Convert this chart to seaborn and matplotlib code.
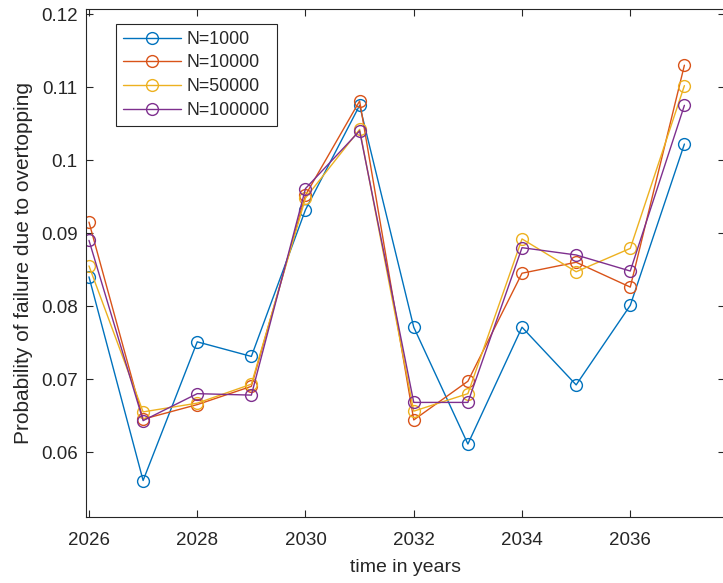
import matplotlib
matplotlib.use("Agg")
import matplotlib.pyplot as plt
import seaborn as sns
import pandas as pd

years = list(range(2026, 2038))
labels = ["N=1000", "N=10000", "N=50000", "N=100000"]
n1000 = [0.0840, 0.0561, 0.0751, 0.0731, 0.0932, 0.1075, 0.0771, 0.0611, 0.0771, 0.0692, 0.0801, 0.1022]
n10000 = [0.0915, 0.0645, 0.0665, 0.0690, 0.0952, 0.1081, 0.0644, 0.0697, 0.0845, 0.0860, 0.0826, 0.1130]
n50000 = [0.0855, 0.0655, 0.0667, 0.0693, 0.0948, 0.1042, 0.0656, 0.0680, 0.0892, 0.0847, 0.0879, 0.1102]
n100000 = [0.0890, 0.0643, 0.0680, 0.0678, 0.0961, 0.1040, 0.0668, 0.0668, 0.0880, 0.0870, 0.0848, 0.1075]
colors = ["#0072BD", "#D95319", "#EDB120", "#7E2F8E"]

df = pd.concat([
    pd.DataFrame({"year": years, "p": vals, "series": lab})
    for vals, lab in zip([n1000, n10000, n50000, n100000], labels)
])

sns.set_style("ticks")
plt.rcParams["font.family"] = ["Liberation Sans", "DejaVu Sans"]

fig = plt.figure(figsize=(7.23, 5.83), dpi=100)
ax = fig.add_axes([86 / 723, 66 / 583, 639 / 723, 508 / 583])

sns.lineplot(data=df, x="year", y="p", hue="series", hue_order=labels,
             palette=colors, marker="o", linewidth=1.0, legend=False, ax=ax)

for line, c in zip(ax.lines, colors):
    line.set_markerfacecolor("none")
    line.set_markeredgecolor(c)
    line.set_markeredgewidth(1.0)
    line.set_markersize(8.5)

ax.set_xlim(2025.945, 2037.75)
ax.set_ylim(0.0511, 0.1207)
ax.set_xticks([2026, 2028, 2030, 2032, 2034, 2036])
ax.set_yticks([0.06, 0.07, 0.08, 0.09, 0.1, 0.11, 0.12])
ax.set_yticklabels(["0.06", "0.07", "0.08", "0.09", "0.1", "0.11", "0.12"])

txt = "#262626"
ax.tick_params(direction="in", length=5, width=0.8, labelsize=13.5, colors=txt,
               top=True, right=True)
ax.tick_params(axis="x", pad=11)
ax.tick_params(axis="y", pad=6)
for s in ax.spines.values():
    s.set_color("#262626")
    s.set_linewidth(0.8)

ax.set_xlabel("time in years", fontsize=14, color=txt, labelpad=7)
ax.set_ylabel("Probability of failure due to overtopping", fontsize=15, color=txt, labelpad=6)

leg = ax.legend(ax.lines, labels, loc="upper left", bbox_to_anchor=(0.047, 0.971),
                fontsize=12.7, frameon=True, fancybox=False, framealpha=1,
                edgecolor="#262626", handlelength=3.3, borderpad=0.4,
                labelspacing=0.38, handletextpad=0.3, borderaxespad=0)
leg.get_frame().set_linewidth(0.8)
for t in leg.get_texts():
    t.set_color(txt)

fig.savefig("out.png", dpi=100)
